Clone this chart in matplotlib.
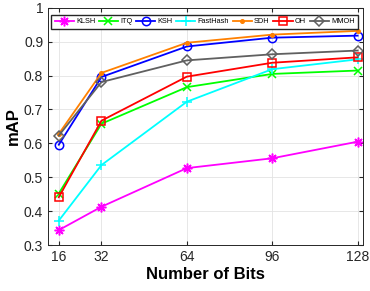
import matplotlib
matplotlib.use("Agg")
import matplotlib.pyplot as plt

# ---- data ----
bits = [16, 32, 64, 96, 128]
methods = ["KLSH", "ITQ", "KSH", "FastHash", "SDH", "OH", "MMOH"]
klsh     = [0.344, 0.413, 0.527, 0.556, 0.605]
itq      = [0.452, 0.658, 0.766, 0.805, 0.815]
ksh      = [0.596, 0.796, 0.886, 0.912, 0.918]
fasthash = [0.372, 0.536, 0.723, 0.819, 0.848]
sdh      = [0.628, 0.808, 0.897, 0.921, 0.932]
oh       = [0.441, 0.667, 0.797, 0.838, 0.854]
mmoh     = [0.623, 0.781, 0.845, 0.863, 0.874]
series = [klsh, itq, ksh, fasthash, sdh, oh, mmoh]
yticks = [0.3, 0.4, 0.5, 0.6, 0.7, 0.8, 0.9, 1.0]
ytick_labels = ["0.3", "0.4", "0.5", "0.6", "0.7", "0.8", "0.9", "1"]

# colour, marker, fill, size
styles = [("#FF00FF", (8, 2, 0), "full", 7), ("#00FF00", "x", "full", 6),
          ("#0000FF", "o", "none", 6), ("#00FFFF", "+", "full", 7),
          ("#FF8000", ".", "full", 5), ("#FF0000", "s", "none", 5.5),
          ("#606060", "D", "none", 5)]

plt.rcParams["font.family"] = ["Liberation Sans", "DejaVu Sans"]
fig = plt.figure(figsize=(3.7, 2.91), dpi=100)
ax = fig.add_axes([0.130, 0.158, 0.851, 0.815])

for name, vals, (c, m, fill, ms) in zip(methods, series, styles):
    ax.plot(bits, vals, color=c, marker=m, fillstyle=fill, markersize=ms,
            markeredgewidth=1.1, linewidth=1.3, label=name)

ax.set_xlim(12, 130)
ax.set_ylim(0.3, 1.0)
ax.set_xticks(bits)
ax.set_yticks(yticks)
ax.set_yticklabels(ytick_labels)
ax.tick_params(labelsize=10, direction="in", top=True, right=True, length=3, colors="#262626")
ax.grid(True, color="#e3e3e3", linewidth=0.6)
for s in ax.spines.values():
    s.set_color("#262626"); s.set_linewidth(0.7)
ax.set_xlabel("Number of Bits", fontsize=12, fontweight="bold", labelpad=2)
ax.set_ylabel("mAP", fontsize=12, fontweight="bold", labelpad=2)
ax.legend(loc="upper center", bbox_to_anchor=(0.497, 0.97), ncol=7, fontsize=5.3,
          handlelength=2.6, handletextpad=0.3, columnspacing=0.5, borderpad=0.45,
          borderaxespad=0, fancybox=False, edgecolor="#262626", framealpha=1)
fig.savefig("out.png", dpi=100)
